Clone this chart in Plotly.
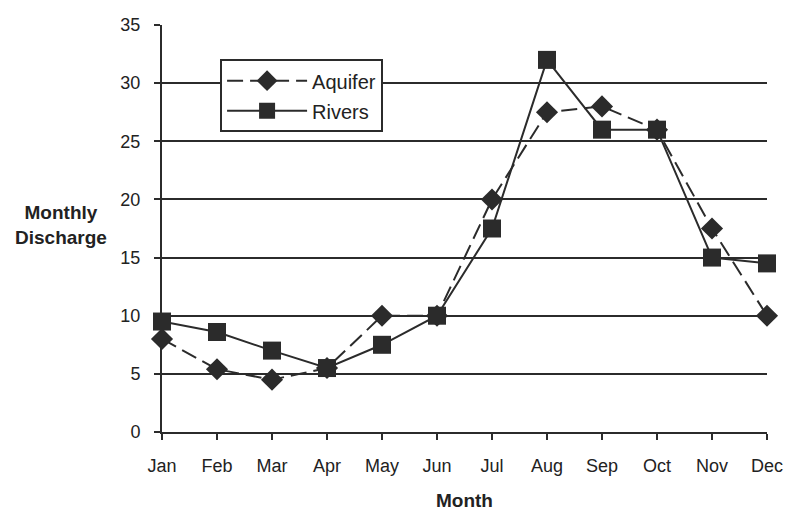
import plotly.graph_objects as go

months = ["Jan", "Feb", "Mar", "Apr", "May", "Jun", "Jul", "Aug", "Sep", "Oct", "Nov", "Dec"]
aquifer = [8, 5.4, 4.5, 5.5, 10, 10, 20, 27.5, 28, 26, 17.5, 10]
rivers = [9.5, 8.6, 7, 5.5, 7.5, 10, 17.5, 32, 26, 26, 15, 14.5]
yticks = [0, 5, 10, 15, 20, 25, 30, 35]

FONT = "Liberation Sans, Arial, sans-serif"
INK = "#2b2b2b"

fig = go.Figure()
fig.add_trace(go.Scatter(
    x=months, y=aquifer, name="Aquifer", mode="lines+markers", legendgroup="a",
    line=dict(color=INK, width=2, dash="16px,7px"),
    marker=dict(symbol="diamond", size=17, color=INK),
    cliponaxis=False,
))
fig.add_trace(go.Scatter(
    x=months, y=rivers, name="Rivers", mode="lines+markers", legendgroup="b",
    line=dict(color=INK, width=2),
    marker=dict(symbol="square", size=18, color=INK),
    cliponaxis=False,
))

fig.update_layout(
    width=787, height=512,
    margin=dict(l=162, r=20, t=25, b=80, autoexpand=False),
    paper_bgcolor="white", plot_bgcolor="white",
    font=dict(family=FONT, size=18, color="#222"),
    showlegend=True,
    legend=dict(
        x=0.096, y=0.916, xanchor="left", yanchor="top",
        bordercolor=INK, borderwidth=2, bgcolor="white",
        font=dict(size=20, color="#222"),
        tracegroupgap=1, itemwidth=80,
    ),
    xaxis=dict(
        type="category", categoryorder="array", categoryarray=months,
        range=[0, 11], showgrid=False, zeroline=False, automargin=False,
        showline=True, linecolor=INK, linewidth=2,
        ticks="outside", ticklen=6, tickcolor=INK, tickwidth=2,
        ticklabelstandoff=10,
        title=dict(text="<b>Month</b>", font=dict(size=19), standoff=19),
    ),
    yaxis=dict(
        range=[0, 35], tickvals=yticks, showgrid=True, automargin=False,
        gridcolor=INK, gridwidth=2, zeroline=False,
        showline=True, linecolor=INK, linewidth=2,
        ticks="outside", ticklen=6, tickcolor=INK, tickwidth=2,
        ticklabelstandoff=10,
    ),
    annotations=[dict(
        text="<b>Monthly<br>Discharge</b>", xref="paper", yref="paper",
        x=-0.167, y=0.509, xanchor="center", yanchor="middle",
        showarrow=False, font=dict(size=19, color="#222"), align="center",
    )],
)

fig.write_html(
    "out.html",
    config={"displayModeBar": False},
    post_script="document.body.style.margin='0';document.body.style.overflow='hidden';",
)
